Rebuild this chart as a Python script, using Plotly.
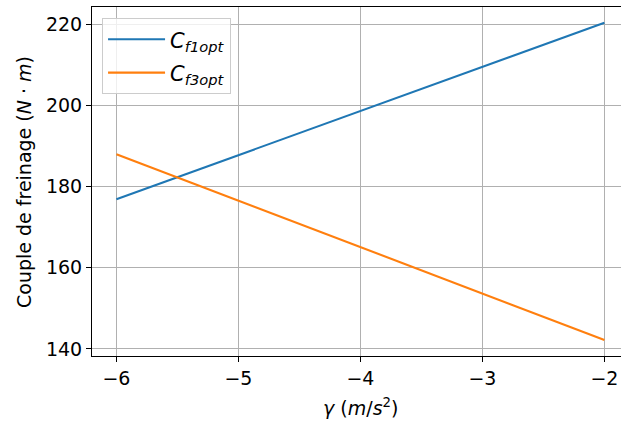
import plotly.graph_objects as go

gamma = [-6, -5, -4, -3, -2]
cf1opt = [176.9, 187.8, 198.7, 209.5, 220.4]
cf3opt = [188.0, 176.6, 165.1, 153.6, 142.2]
x_ticks = [-6, -5, -4, -3, -2]
x_ticklabels = ["−6", "−5", "−4", "−3", "−2"]
y_ticks = [140, 160, 180, 200, 220]

FONT = "DejaVu Sans"

fig = go.Figure()
fig.add_trace(go.Scatter(x=gamma, y=cf1opt, mode="lines",
                         name="<i>C</i><sub><i>f1opt</i></sub>", legendgroup="a",
                         line=dict(color="#1f77b4", width=2.1)))
fig.add_trace(go.Scatter(x=gamma, y=cf3opt, mode="lines",
                         name="<i>C</i><sub><i>f3opt</i></sub>", legendgroup="b",
                         line=dict(color="#ff7f0e", width=2.1)))

fig.update_layout(
    width=621, height=423,
    margin=dict(l=92, r=0, t=7, b=67),
    paper_bgcolor="white", plot_bgcolor="white",
    font=dict(family=FONT, size=19, color="black"),
    showlegend=True,
    legend=dict(x=0.019, y=0.968, xanchor="left", yanchor="top",
                bgcolor="rgba(255,255,255,0.8)", bordercolor="#cccccc",
                borderwidth=1, font=dict(family=FONT, size=21),
                itemwidth=57, tracegroupgap=3),
    xaxis=dict(range=[-6.2, -1.864], tickvals=x_ticks, ticktext=x_ticklabels,
               automargin=False,
               showgrid=True, gridcolor="#b0b0b0", gridwidth=1.1,
               zeroline=False, showline=True, linecolor="black", linewidth=1.1,
               mirror=True, ticks="outside", ticklen=5, tickwidth=1.1,
               tickcolor="black"),
    yaxis=dict(range=[138.24, 224.31], tickvals=y_ticks,
               automargin=False,
               showgrid=True, gridcolor="#b0b0b0", gridwidth=1.1,
               zeroline=False, showline=True, linecolor="black", linewidth=1.1,
               mirror=False, ticks="outside", ticklen=5, tickwidth=1.1,
               tickcolor="black"),
    annotations=[
        dict(text="<i>γ</i> (<i>m</i>/<i>s</i><sup>2</sup>)", xref="paper", yref="paper",
             x=0.5076, y=-0.146, xanchor="center", yanchor="middle",
             showarrow=False, font=dict(family=FONT, size=19)),
        dict(text="Couple de freinage (<i>N</i> · <i>m</i>)", xref="paper", yref="paper",
             x=-0.1295, y=0.5, xanchor="center", yanchor="middle", textangle=-90,
             showarrow=False, font=dict(family=FONT, size=19)),
    ],
)

fig.write_html("out.html", config={"displayModeBar": False},
               post_script="document.body.style.margin='0';document.body.style.padding='0';")
